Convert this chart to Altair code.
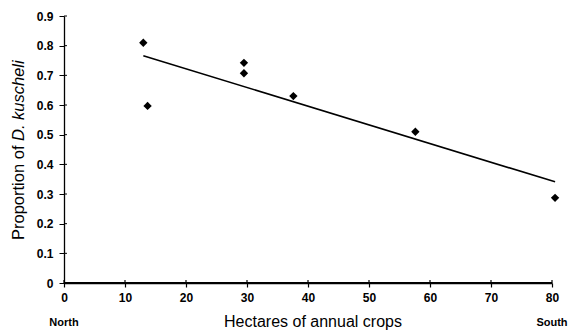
import altair as alt
import pandas as pd

# data
hectares = [13.0, 13.7, 29.5, 29.5, 37.6, 57.6, 80.5]
proportion = [0.81, 0.597, 0.742, 0.707, 0.63, 0.51, 0.287]
fit_x = [13.0, 80.5]
fit_y = [0.766, 0.341]
x_ticks = [0, 10, 20, 30, 40, 50, 60, 70, 80]
y_ticks = [0, 0.1, 0.2, 0.3, 0.4, 0.5, 0.6, 0.7, 0.8, 0.9]
ends_x = [0, 80]
ends_lab = ["North", "South"]

pts = pd.DataFrame({"x": hectares, "y": proportion})
fit = pd.DataFrame({"x": fit_x, "y": fit_y})
ends = pd.DataFrame({"x": ends_x, "lab": ends_lab})
xt = pd.DataFrame({"x": x_ticks})
yt = pd.DataFrame({"y": y_ticks})
xaxis_line = pd.DataFrame({"x": [x_ticks[0]], "x2": [x_ticks[-1]], "y": [y_ticks[0]]})

W, H = 488, 267
FONT = "Liberation Sans"
xs = alt.Scale(domain=[0, 80], nice=False, zero=False)
ys = alt.Scale(domain=[0, 0.9], nice=False)

x_axis = alt.Axis(
    values=x_ticks, title=None, orient="bottom", grid=False, zindex=1,
    domain=True, domainColor="black", domainWidth=1.5, labelFlush=False,
    ticks=True, tickColor="black", tickSize=4, tickWidth=1.2,
    labelFont=FONT, labelFontSize=12, labelFontWeight="bold",
    labelColor="black", labelPadding=5)
y_axis = alt.Axis(
    values=y_ticks, title=None, orient="left", grid=False, format="~g", zindex=1,
    domain=True, domainColor="black", domainWidth=1.3, labelFlush=False,
    ticks=True, tickColor="black", tickSize=5, tickWidth=1,
    labelFont=FONT, labelFontSize=12, labelFontWeight="bold",
    labelColor="black", labelPadding=6)

points = alt.Chart(pts).mark_point(
    shape="diamond", filled=True, color="black", size=70, opacity=1
).encode(
    x=alt.X("x:Q", scale=xs, axis=x_axis),
    y=alt.Y("y:Q", scale=ys, axis=y_axis),
)

line = alt.Chart(fit).mark_line(color="black", strokeWidth=1.6).encode(
    x=alt.X("x:Q", scale=xs, axis=x_axis), y=alt.Y("y:Q", scale=ys, axis=y_axis)
)

# explicit x axis line
xline = alt.Chart(xaxis_line).mark_rule(color="black", strokeWidth=2).encode(
    x=alt.X("x:Q", scale=xs, axis=x_axis), x2="x2:Q",
    y=alt.Y("y:Q", scale=ys, axis=y_axis),
)

# short inward tick stubs (the reference's ticks cross the axis lines)
xin = alt.Chart(xt).mark_rule(color="black", strokeWidth=1.2).encode(
    x=alt.X("x:Q", scale=xs, axis=x_axis), y=alt.value(H), y2=alt.value(H - 3)
)
yin = alt.Chart(yt).mark_rule(color="black", strokeWidth=1).encode(
    y=alt.Y("y:Q", scale=ys, axis=y_axis), x=alt.value(0), x2=alt.value(3)
)

ends_text = alt.Chart(ends).mark_text(
    font=FONT, fontSize=11, fontWeight="bold", color="black", baseline="middle"
).encode(
    x=alt.X("x:Q", scale=xs, axis=x_axis),
    y=alt.value(H + 40),
    text="lab:N",
)

x_title = alt.Chart(pd.DataFrame({"t": ["Hectares of  annual crops"]})).mark_text(
    font=FONT, fontSize=16, color="black", baseline="middle", align="center"
).encode(x=alt.value(249), y=alt.value(H + 39), text="t:N")

y_title1 = alt.Chart(pd.DataFrame({"t": ["Proportion of "]})).mark_text(
    font=FONT, fontSize=16.5, color="black", baseline="middle", align="left", angle=270
).encode(x=alt.value(-45), y=alt.value(224), text="t:N")

y_title2 = alt.Chart(pd.DataFrame({"t": ["D. kuscheli"]})).mark_text(
    font=FONT, fontSize=16.5, fontStyle="italic", color="black",
    baseline="middle", align="left", angle=270
).encode(x=alt.value(-45), y=alt.value(125), text="t:N")

chart = alt.layer(points, line, xline, xin, yin, ends_text, x_title, y_title1, y_title2).properties(
    width=W, height=H,
    autosize=alt.AutoSizeParams(type="none"),
    padding={"left": 64, "top": 16, "right": 17, "bottom": 51},
    background="white",
).configure_view(stroke=None)

chart.save("out.html", embed_options={"renderer": "svg", "actions": False})
